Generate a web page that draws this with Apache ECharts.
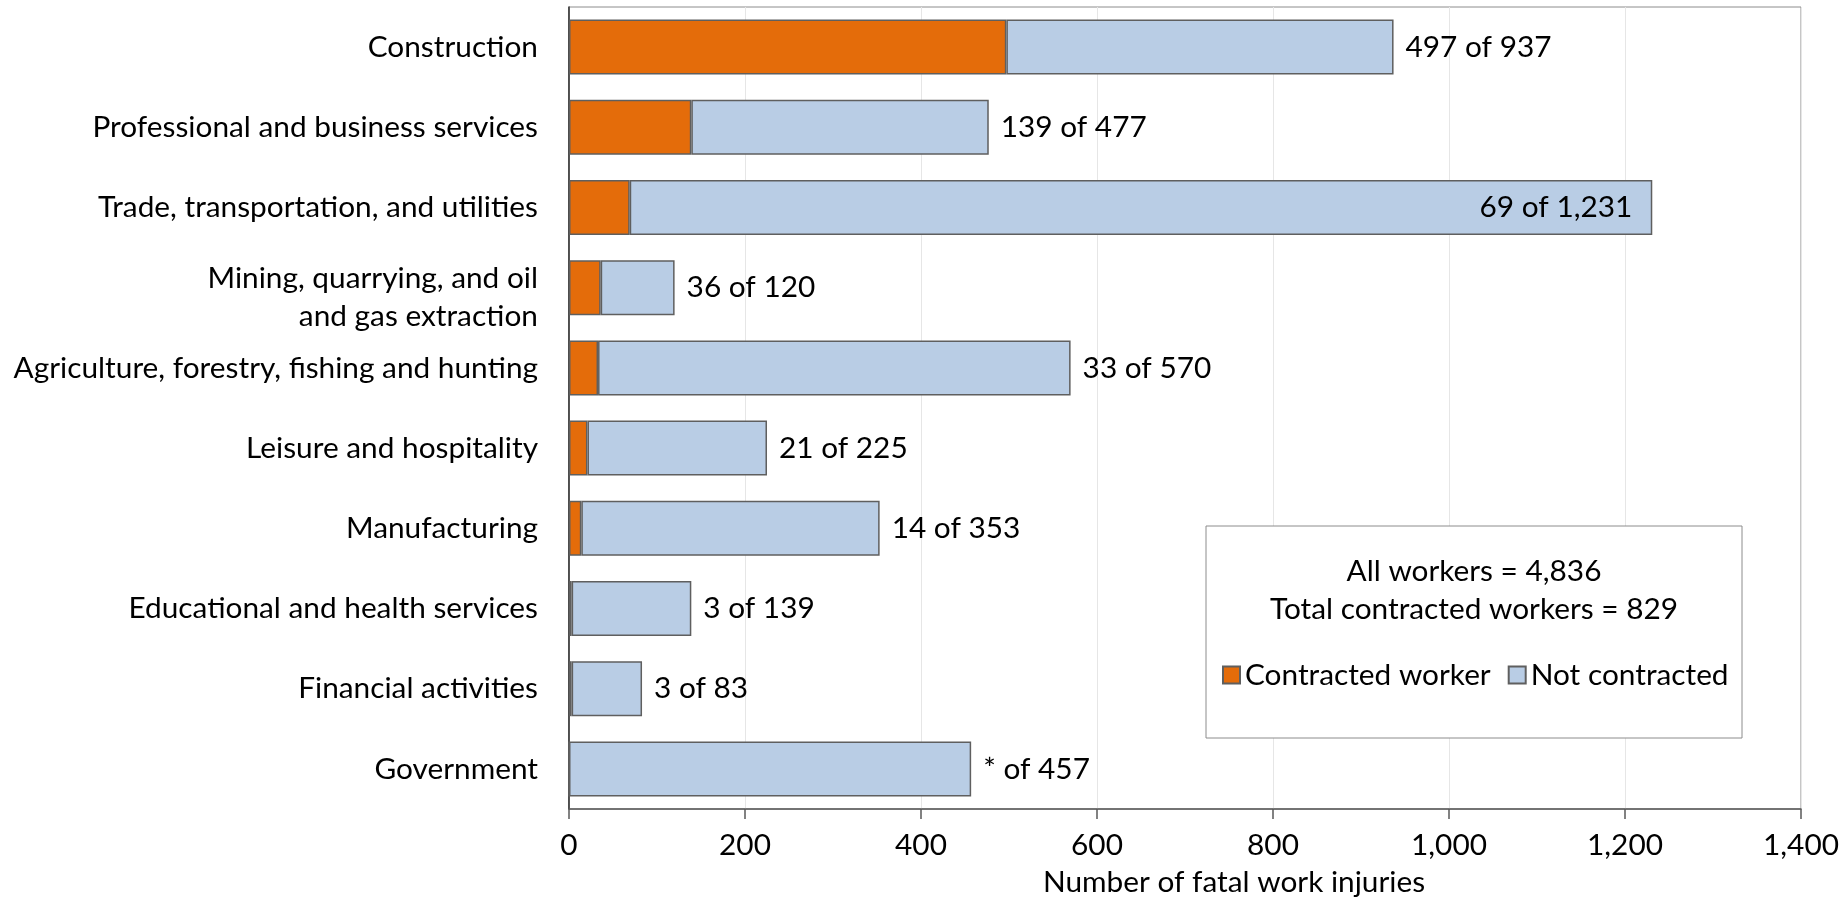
<!DOCTYPE html>
<html>
<head>
<meta charset="utf-8">
<script src="https://cdn.jsdelivr.net/npm/echarts@6/dist/echarts.min.js"></script>
<style>html,body{margin:0;padding:0;background:#fff}#c{width:1843px;height:901px}</style>
</head>
<body>
<div id="c"></div>
<script>
const categories = [
  'Construction',
  'Professional and business services',
  'Trade, transportation, and utilities',
  'Mining, quarrying, and oil\nand gas extraction',
  'Agriculture, forestry, fishing and hunting',
  'Leisure and hospitality',
  'Manufacturing',
  'Educational and health services',
  'Financial activities',
  'Government'
];
const contracted = [497, 139, 69, 36, 33, 21, 14, 3, 3, null];
const notContracted = [440, 338, 1162, 84, 537, 204, 339, 136, 80, 457];
const totals = [937, 477, 1231, 120, 570, 225, 353, 139, 83, 457];
const xTicks = { min: 0, max: 1400, interval: 200 };
const summaryLines = ['All workers = 4,836', 'Total contracted workers = 829'];

const FAMILY = 'Lato, "Noto Sans", sans-serif';
function fitSize(text, target) {
  const ctx = document.createElement('canvas').getContext('2d');
  ctx.font = '100px ' + FAMILY;
  return 100 * target / ctx.measureText(text).width;
}
const fs = Math.round(fitSize('Agriculture, forestry, fishing and hunting', 525) * 10) / 10;

const fmt = n => n.toLocaleString('en-US');
const insideIdx = 2;

const chart = echarts.init(document.getElementById('c'), null, { renderer: 'canvas' });
chart.setOption({
  animation: false,
  textStyle: { fontFamily: FAMILY, color: '#000' },
  grid: { left: 569, right: 42, top: 7, bottom: 92, show: true, borderColor: '#8c8c8c', borderWidth: 1, backgroundColor: 'transparent' },
  xAxis: {
    type: 'value', min: xTicks.min, max: xTicks.max, interval: xTicks.interval,
    axisLine: { show: true, lineStyle: { color: '#595959', width: 1.5 } },
    axisTick: { show: true, length: 10, lineStyle: { color: '#595959', width: 1.5 } },
    axisLabel: { fontSize: fs, color: '#000', margin: 21, fontFamily: FAMILY, formatter: v => fmt(v) },
    splitLine: { show: true, lineStyle: { color: '#e6e6e6', width: 1 } }
  },
  yAxis: {
    type: 'category', inverse: true, data: categories,
    axisLine: { show: true, lineStyle: { color: '#262626', width: 1.5 } },
    axisTick: { show: false },
    axisLabel: {
      fontSize: fs, color: '#000', margin: 31, lineHeight: 38, fontFamily: FAMILY, align: 'right',
      formatter: (v) => {
        if (v.indexOf('\n') < 0) return v;
        const parts = v.split('\n');
        return '{s| }\n{m|' + parts[0] + '}\n{m|' + parts[1] + '}';
      },
      rich: {
        s: { fontSize: 10, lineHeight: 20 },
        m: { fontSize: fs, fontFamily: FAMILY, color: '#000', lineHeight: 38 }
      }
    },
    splitLine: { show: false }
  },
  legend: {
    show: true, left: 1217, top: 655, orient: 'horizontal',
    itemWidth: 17, itemHeight: 17, itemGap: 17, icon: 'rect',
    textStyle: { fontSize: fs, color: '#000', fontFamily: FAMILY },
    data: ['Contracted worker', 'Not contracted'], z: 10
  },
  graphic: [
    { type: 'rect', z: 5, shape: { x: 1206, y: 526, width: 536, height: 212 }, style: { fill: '#fff', stroke: '#8c8c8c', lineWidth: 1 } },
    { type: 'text', z: 6, x: 1474, y: 571, style: { text: summaryLines[0], font: fs + 'px ' + FAMILY, fill: '#000', textAlign: 'center', textVerticalAlign: 'middle' } },
    { type: 'text', z: 6, x: 1474, y: 609, style: { text: summaryLines[1], font: fs + 'px ' + FAMILY, fill: '#000', textAlign: 'center', textVerticalAlign: 'middle' } },
    { type: 'text', z: 6, x: 1234, y: 882, style: { text: 'Number of fatal work injuries', font: fs + 'px ' + FAMILY, fill: '#000', textAlign: 'center', textVerticalAlign: 'middle' } }
  ],
  series: [
    {
      name: 'Contracted worker', type: 'bar', stack: 'a', barWidth: 55,
      itemStyle: { color: '#E46C0A', borderColor: '#5f5f5f', borderWidth: 1.5 },
      data: contracted.map(v => v == null ? 0 : v)
    },
    {
      name: 'Not contracted', type: 'bar', stack: 'a', barWidth: 55,
      itemStyle: { color: '#B9CDE5', borderColor: '#5f5f5f', borderWidth: 1.5 },
      data: notContracted.map((v, i) => ({
        value: v,
        label: i === insideIdx ? { position: 'insideRight', distance: 20 } : undefined
      })),
      label: {
        show: true, position: 'right', distance: 12, fontSize: fs, color: '#000', fontFamily: FAMILY,
        formatter: p => (contracted[p.dataIndex] == null ? '*' : fmt(contracted[p.dataIndex])) + ' of ' + fmt(totals[p.dataIndex])
      }
    }
  ]
});
</script>
</body>
</html>
